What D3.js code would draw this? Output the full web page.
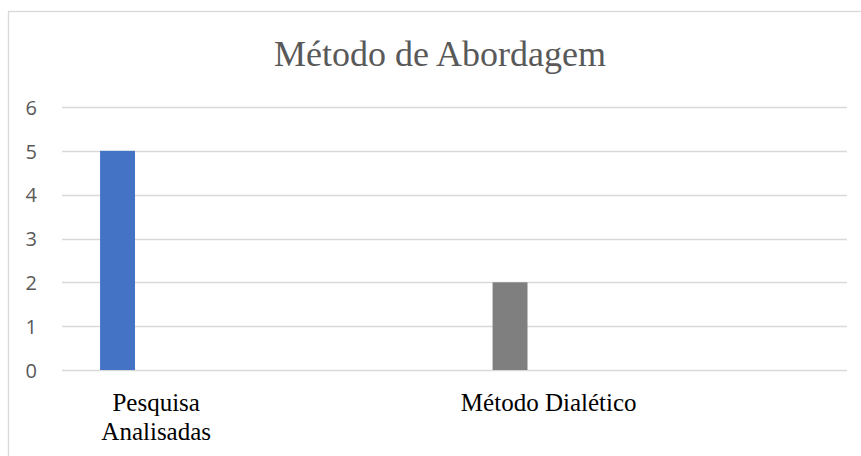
<!DOCTYPE html>
<html>
<head>
<meta charset="utf-8">
<script src="https://cdn.jsdelivr.net/npm/d3@7/dist/d3.min.js"></script>
<style>
  html, body { margin: 0; padding: 0; background: #ffffff; }
  svg { display: block; }
</style>
</head>
<body>
<script>
const title = "Método de Abordagem";
const categories = ["Pesquisa Analisadas", "Método Dialético"];
const categoryLines = [["Pesquisa", "Analisadas"], ["Método Dialético"]];
const values = [5, 2];
const barColors = ["#4472C4", "#7F7F7F"];
const yTicks = [0, 1, 2, 3, 4, 5, 6];

const W = 861, H = 456;
const svg = d3.select("body").append("svg").attr("width", W).attr("height", H);

// chart border
svg.append("rect").attr("x", 8.5).attr("y", 11.5).attr("width", W + 10).attr("height", H + 10)
  .attr("fill", "#ffffff").attr("stroke", "#D9D9D9").attr("stroke-width", 1.3);

const plot = { left: 62, right: 847, top: 107, bottom: 370 };

const x = d3.scaleBand().domain(categories).range([plot.left, plot.right]).padding(0);
const y = d3.scaleLinear().domain([0, 6]).range([plot.bottom, plot.top]);

// gridlines
svg.append("g").selectAll("line").data(yTicks).join("line")
  .attr("x1", plot.left).attr("x2", plot.right)
  .attr("y1", d => Math.round(y(d)) + 0.5).attr("y2", d => Math.round(y(d)) + 0.5)
  .attr("stroke", "#D9D9D9").attr("stroke-width", 1.3);

// y axis labels
const yAxis = d3.axisLeft(y).tickValues(yTicks).tickFormat(d3.format("d")).tickSize(0).tickPadding(0);
const gy = svg.append("g").attr("transform", `translate(37,0)`).call(yAxis);
gy.select(".domain").remove();
gy.selectAll("text").attr("font-family", "'Open Sans', 'Liberation Sans', sans-serif")
  .attr("font-size", 20).attr("fill", "#595959").attr("dy", "0.36em");

// bars
const bw = x.bandwidth();
svg.append("g").selectAll("rect").data(categories).join("rect")
  .attr("x", d => x(d) + bw * 0.097)
  .attr("width", bw * 0.089)
  .attr("y", (d, i) => y(values[i]))
  .attr("height", (d, i) => y(0) - y(values[i]))
  .attr("fill", (d, i) => barColors[i]);

// category labels
const lab = svg.append("g");
categories.forEach((c, i) => {
  const t = lab.append("text")
    .attr("x", x(c) + bw * 0.24)
    .attr("y", 411)
    .attr("text-anchor", "middle")
    .attr("font-family", "'Liberation Serif', 'Times New Roman', serif")
    .attr("font-size", 25)
    .attr("fill", "#000000");
  categoryLines[i].forEach((ln, j) => {
    t.append("tspan").attr("x", x(c) + bw * 0.24).attr("dy", j === 0 ? 0 : 29).text(ln);
  });
});

// title
svg.append("text")
  .attr("x", 440).attr("y", 66)
  .attr("text-anchor", "middle")
  .attr("font-family", "'Liberation Serif', 'Times New Roman', serif")
  .attr("font-size", 36)
  .attr("fill", "#595959")
  .text(title);
</script>
</body>
</html>
